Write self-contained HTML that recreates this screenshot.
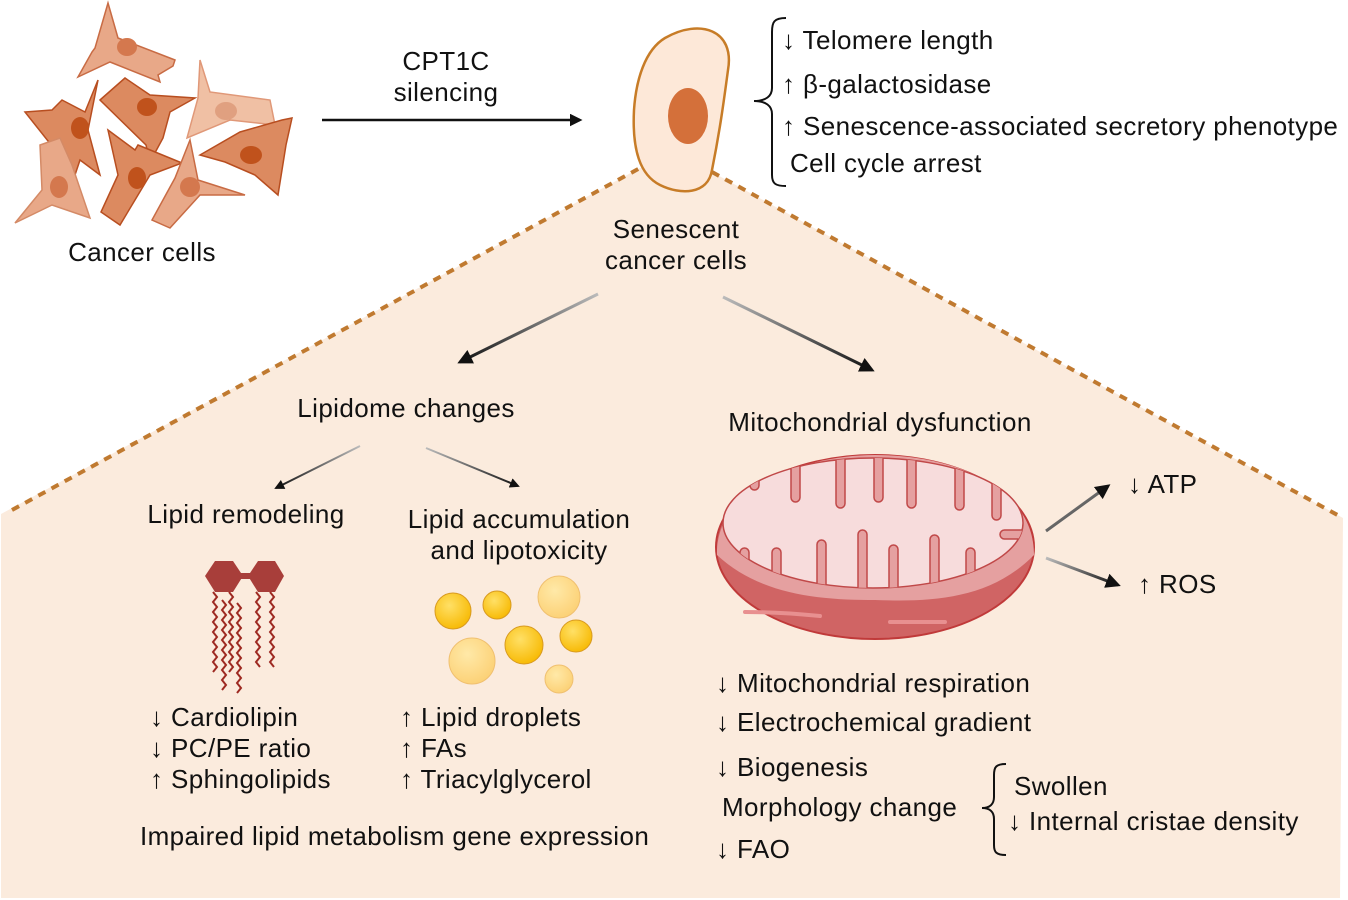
<!DOCTYPE html>
<html><head><meta charset="utf-8"><style>
html,body{margin:0;padding:0;background:#fff}
svg{display:block}
text{font-family:"Liberation Sans",sans-serif;font-size:26px;letter-spacing:0.4px;fill:#111}
</style></head><body>
<svg width="1348" height="900" viewBox="0 0 1348 900" xmlns="http://www.w3.org/2000/svg">
<defs>
<linearGradient id="gl" x1="1" y1="0" x2="0" y2="1"><stop offset="0" stop-color="#bbb"/><stop offset="1" stop-color="#111"/></linearGradient>
<linearGradient id="gr" x1="0" y1="0" x2="1" y2="1"><stop offset="0" stop-color="#bbb"/><stop offset="1" stop-color="#111"/></linearGradient>
<marker id="ah" viewBox="0 0 10 10" refX="8" refY="5" markerWidth="5" markerHeight="5" orient="auto"><path d="M0,0 L10,5 L0,10 z" fill="#111"/></marker>
<radialGradient id="dy" cx="0.4" cy="0.35" r="0.7"><stop offset="0" stop-color="#ffe066"/><stop offset="1" stop-color="#f7b800"/></radialGradient>
<radialGradient id="ly" cx="0.4" cy="0.35" r="0.7"><stop offset="0" stop-color="#ffe9a8"/><stop offset="1" stop-color="#fcd074"/></radialGradient>
<clipPath id="inner"><ellipse cx="873" cy="523" rx="150" ry="65"/></clipPath>
</defs>
<polygon points="1,514 640,168 712,172 1343,518 1340,898 1,898" fill="#fbebdd"/>
<path d="M12,510 L640,168 M712,172 L1343,518" stroke="#c07a30" stroke-width="4" stroke-dasharray="8,7" fill="none"/>

<g stroke-width="1.5">
<path d="M108,3 L118,38 L175,60 L173,66 L158,75 L160,82 L110,62 L78,77 L92,52 L95,48 Z" fill="#e8a888" stroke="#c86b44"/>
<ellipse cx="127" cy="47" rx="10" ry="9" fill="#d4784e" stroke="none"/>
<path d="M25,112 L52,110 L62,100 L85,112 L98,80 L88,130 L100,175 L80,160 L75,175 Z" fill="#dc8a60" stroke="#b84e20"/>
<ellipse cx="80" cy="128" rx="9" ry="11" fill="#c0521c" stroke="none"/>
<path d="M100,100 L125,78 L150,95 L195,98 L170,112 L163,138 L150,162 L146,145 Z" fill="#dc8a60" stroke="#b84e20"/>
<ellipse cx="147" cy="107" rx="10" ry="9" fill="#c0521c" stroke="none"/>
<path d="M200,60 L210,92 L270,100 L275,125 L230,120 L187,138 L198,98 Z" fill="#f0c0a4" stroke="#e09878"/>
<ellipse cx="226" cy="111" rx="11" ry="9" fill="#e0a080" stroke="none"/>
<path d="M200,155 L240,132 L282,120 L292,118 L286,145 L278,195 L255,175 L225,162 Z" fill="#dc8a60" stroke="#b84e20"/>
<ellipse cx="251" cy="155" rx="11" ry="9" fill="#c0521c" stroke="none"/>
<path d="M108,130 L135,150 L138,145 L182,163 L150,175 L120,225 L101,212 L118,175 Z" fill="#dc8a60" stroke="#b84e20"/>
<ellipse cx="137" cy="178" rx="9" ry="11" fill="#c0521c" stroke="none"/>
<path d="M40,145 L60,138 L72,165 L90,218 L52,205 L15,223 L42,190 Z" fill="#e8a888" stroke="#d48a66"/>
<ellipse cx="59" cy="187" rx="9" ry="11" fill="#d4784e" stroke="none"/>
<path d="M190,140 L198,180 L245,195 L200,195 L170,228 L152,220 L175,178 Z" fill="#e8a888" stroke="#c86b44"/>
<ellipse cx="190" cy="187" rx="10" ry="10" fill="#d4784e" stroke="none"/>
</g>
<text x="142" y="261" text-anchor="middle">Cancer cells</text>

<text x="446" y="70" text-anchor="middle">CPT1C</text>
<text x="446" y="101" text-anchor="middle">silencing</text>
<line x1="322" y1="120" x2="580" y2="120" stroke="#111" stroke-width="2.5" marker-end="url(#ah)"/>

<path d="M665,38 C700,18 735,30 728,70 C724,100 720,130 712,170 C708,195 680,195 660,185 C640,175 632,150 634,110 C636,80 645,50 665,38 Z" fill="#fde8d8" stroke="#c77c27" stroke-width="2.5"/>
<ellipse cx="688" cy="116" rx="20" ry="28" fill="#d4703a"/>
<text x="676" y="238" text-anchor="middle">Senescent</text>
<text x="676" y="269" text-anchor="middle">cancer cells</text>

<path d="M786,18 C774,18 772,22 772,32 L772,88 C772,96 766,101 754,101 C766,101 772,106 772,114 L772,175 C772,184 776,186 786,186" fill="none" stroke="#111" stroke-width="2"/>
<text x="782" y="49">↓ Telomere length</text>
<text x="782" y="93">↑ β-galactosidase</text>
<text x="782" y="135">↑ Senescence-associated secretory phenotype</text>
<text x="790" y="172">Cell cycle arrest</text>

<line x1="598" y1="294" x2="460" y2="362" stroke="url(#gl)" stroke-width="3" marker-end="url(#ah)"/>
<line x1="723" y1="297" x2="872" y2="370" stroke="url(#gr)" stroke-width="3" marker-end="url(#ah)"/>

<text x="406" y="417" text-anchor="middle">Lipidome changes</text>
<text x="880" y="431" text-anchor="middle">Mitochondrial dysfunction</text>

<line x1="360" y1="446" x2="276" y2="488" stroke="url(#gl)" stroke-width="2" marker-end="url(#ah)"/>
<line x1="426" y1="448" x2="518" y2="486" stroke="url(#gr)" stroke-width="2" marker-end="url(#ah)"/>

<text x="246" y="523" text-anchor="middle">Lipid remodeling</text>
<text x="519" y="528" text-anchor="middle">Lipid accumulation</text>
<text x="519" y="559" text-anchor="middle">and lipotoxicity</text>

<polygon points="205,576 215,561 233,561 243,576 233,592 215,592" fill="#a83e3a"/>
<polygon points="248,576 258,561 275,561 284,576 275,592 258,592" fill="#a83e3a"/>
<rect x="240" y="573" width="12" height="6" fill="#a83e3a"/>
<g fill="none" stroke="#9e2a22" stroke-width="2">
<path d="M213,592 l4,5 -4,5 4,5 -4,5 4,5 -4,5 4,5 -4,5 4,5 -4,5 4,5 -4,5 4,5 -4,5 4,5 -4,5"/>
<path d="M222,600 l4,5 -4,5 4,5 -4,5 4,5 -4,5 4,5 -4,5 4,5 -4,5 4,5 -4,5 4,5 -4,5 4,5 -4,5 4,5 -4,5"/>
<path d="M229,592 l4,5 -4,5 4,5 -4,5 4,5 -4,5 4,5 -4,5 4,5 -4,5 4,5 -4,5 4,5 -4,5 4,5 -4,5"/>
<path d="M237,603 l4,5 -4,5 4,5 -4,5 4,5 -4,5 4,5 -4,5 4,5 -4,5 4,5 -4,5 4,5 -4,5 4,5 -4,5 4,5 -4,5"/>
<path d="M256,592 l4,5 -4,5 4,5 -4,5 4,5 -4,5 4,5 -4,5 4,5 -4,5 4,5 -4,5 4,5 -4,5 4,5"/>
<path d="M270,592 l4,5 -4,5 4,5 -4,5 4,5 -4,5 4,5 -4,5 4,5 -4,5 4,5 -4,5 4,5 -4,5 4,5"/>
</g>

<g stroke-width="1">
<circle cx="453" cy="611" r="18" fill="url(#dy)" stroke="#d89a20"/>
<circle cx="497" cy="605" r="14" fill="url(#dy)" stroke="#d89a20"/>
<circle cx="559" cy="597" r="21" fill="url(#ly)" stroke="#f0c070"/>
<circle cx="524" cy="645" r="19" fill="url(#dy)" stroke="#d89a20"/>
<circle cx="576" cy="636" r="16" fill="url(#dy)" stroke="#d89a20"/>
<circle cx="472" cy="661" r="23" fill="url(#ly)" stroke="#f0c070"/>
<circle cx="559" cy="679" r="14" fill="url(#ly)" stroke="#f0c070"/>
</g>

<text x="150" y="726">↓ Cardiolipin</text>
<text x="150" y="757">↓ PC/PE ratio</text>
<text x="150" y="788">↑ Sphingolipids</text>
<text x="400" y="726">↑ Lipid droplets</text>
<text x="400" y="757">↑ FAs</text>
<text x="400" y="788">↑ Triacylglycerol</text>
<text x="140" y="845">Impaired lipid metabolism gene expression</text>

<!-- mitochondrion -->
<ellipse cx="875" cy="547" rx="159" ry="92" fill="#d06464" stroke="#c03a3a" stroke-width="2"/>
<path d="M717,555 C715,490 800,455 875,455 C960,455 1034,490 1034,555 C990,600 930,602 875,600 C820,600 760,595 717,555 Z" fill="#e5a0a0"/>
<ellipse cx="873" cy="523" rx="150" ry="65" fill="#f7dcdc" stroke="#c04848" stroke-width="1.5"/>
<g clip-path="url(#inner)" fill="#e5a0a0" stroke="#c04848" stroke-width="1.5">
<rect x="750" y="440" width="9" height="50" rx="4.5"/>
<rect x="791" y="440" width="9" height="62" rx="4.5"/>
<rect x="836" y="440" width="9" height="68" rx="4.5"/>
<rect x="874" y="440" width="9" height="62" rx="4.5"/>
<rect x="907" y="440" width="9" height="68" rx="4.5"/>
<rect x="955" y="440" width="9" height="70" rx="4.5"/>
<rect x="992" y="440" width="9" height="80" rx="4.5"/>
<rect x="740" y="548" width="9" height="60" rx="4.5"/>
<rect x="772" y="548" width="9" height="60" rx="4.5"/>
<rect x="817" y="540" width="9" height="70" rx="4.5"/>
<rect x="858" y="530" width="9" height="80" rx="4.5"/>
<rect x="889" y="545" width="9" height="70" rx="4.5"/>
<rect x="930" y="535" width="9" height="80" rx="4.5"/>
<rect x="966" y="548" width="9" height="60" rx="4.5"/>
<rect x="1000" y="530" width="30" height="9" rx="4.5"/>
</g>
<ellipse cx="873" cy="523" rx="150" ry="65" fill="none" stroke="#e5a0a0" stroke-width="1" opacity="0"/>
<path d="M745,612 C770,612 800,614 820,616 M890,622 C910,622 930,622 945,622" stroke="#e89090" stroke-width="4" stroke-linecap="round" fill="none"/>

<text x="1128" y="493">↓ ATP</text>
<text x="1138" y="593">↑ ROS</text>
<line x1="1046" y1="531" x2="1108" y2="486" stroke="url(#gr)" stroke-width="3" marker-end="url(#ah)"/>
<line x1="1046" y1="558" x2="1118" y2="585" stroke="url(#gr)" stroke-width="3" marker-end="url(#ah)"/>

<text x="716" y="692">↓ Mitochondrial respiration</text>
<text x="716" y="731">↓ Electrochemical gradient</text>
<text x="716" y="776">↓ Biogenesis</text>
<text x="722" y="816">Morphology change</text>
<text x="716" y="858">↓ FAO</text>
<path d="M1006,764 C996,764 994,767 994,775 L994,797 C994,804 990,808 982,808 C990,808 994,812 994,819 L994,845 C994,852 996,855 1006,855" fill="none" stroke="#111" stroke-width="2"/>
<text x="1014" y="795">Swollen</text>
<text x="1008" y="830">↓ Internal cristae density</text>
</svg>
</body></html>
